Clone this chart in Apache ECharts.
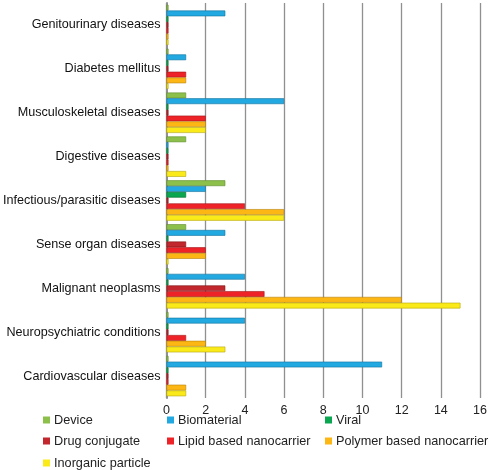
<!DOCTYPE html>
<html>
<head>
<meta charset="utf-8">
<script src="https://cdn.jsdelivr.net/npm/echarts@6/dist/echarts.min.js"></script>
<style>
  html, body { margin: 0; padding: 0; background: #fff; }
  #chart { width: 490px; height: 470px; }
</style>
</head>
<body>
<div id="chart"></div>
<script>
// categories, top to bottom
const categories = [
  'Genitourinary diseases',
  'Diabetes mellitus',
  'Musculoskeletal diseases',
  'Digestive diseases',
  'Infectious/parasitic diseases',
  'Sense organ diseases',
  'Malignant neoplasms',
  'Neuropsychiatric conditions',
  'Cardiovascular diseases'
];

// one value per category, same order as above
const device = [0, 0, 1, 1, 3, 1, 0, 0, 0];
const biomaterial = [3, 1, 6, 0, 2, 3, 4, 4, 11];
const viral = [0, 0, 0, 0, 1, 0, 0, 0, 0];
const drugConjugate = [0, 0, 0, 0, 0, 1, 3, 0, 0];
const lipidNano = [0, 1, 2, 0, 4, 2, 5, 1, 0];
const polymerNano = [0, 1, 2, 0, 6, 2, 12, 2, 1];
const inorganic = [0, 0, 2, 1, 6, 0, 15, 3, 1];

const xTicks = [0, 2, 4, 6, 8, 10, 12, 14, 16];

const seriesDefs = [
  { name: 'Device', data: device, color: '#8cc04b', edge: '#5f8a2c' },
  { name: 'Biomaterial', data: biomaterial, color: '#22a9e1', edge: '#13729c' },
  { name: 'Viral', data: viral, color: '#0aa650', edge: '#067232' },
  { name: 'Drug conjugate', data: drugConjugate, color: '#c1272d', edge: '#7d1519' },
  { name: 'Lipid based nanocarrier', data: lipidNano, color: '#ed2328', edge: '#a31418' },
  { name: 'Polymer based nanocarrier', data: polymerNano, color: '#fdb714', edge: '#b98208' },
  { name: 'Inorganic particle', data: inorganic, color: '#fbea1a', edge: '#b3a60c' }
];

// legend grid: 3 columns, 3 rows
const legendCols = [43, 167, 325];
const legendRows = [413, 434, 456];
const legendSlots = [[0, 0], [1, 0], [2, 0], [0, 1], [1, 1], [2, 1], [0, 2]];

const chart = echarts.init(document.getElementById('chart'));

const font = 'Liberation Sans, Arial, sans-serif';

const option = {
  animation: false,
  textStyle: { fontFamily: font },
  legend: seriesDefs.map((s, i) => ({
    left: legendCols[legendSlots[i][0]],
    top: legendRows[legendSlots[i][1]],
    padding: 0,
    itemWidth: 7,
    itemHeight: 7,
    icon: 'rect',
    itemStyle: { borderWidth: 0 },
    data: [s.name],
    textStyle: { fontFamily: font, fontSize: 12.7, color: '#222', lineHeight: 14, padding: [0, 0, 0, -1] }
  })),
  grid: { left: 165, right: 7, top: 3, bottom: 72 },
  xAxis: {
    type: 'value',
    min: 0,
    max: 16,
    interval: 2,
    axisLine: { show: false },
    axisTick: { show: false },
    axisLabel: {
      fontFamily: font, fontSize: 12.5, color: '#222', margin: 6,
      formatter: v => xTicks.indexOf(v) >= 0 ? String(v) : ''
    },
    splitLine: { show: true, lineStyle: { color: '#909090', width: 1.3 } }
  },
  yAxis: {
    type: 'category',
    data: categories,
    inverse: true,
    axisLine: { show: true, lineStyle: { color: '#909090', width: 2 } },
    axisTick: { show: false },
    axisLabel: { fontFamily: font, fontSize: 12.6, color: '#111', margin: 6 }
  },
  series: seriesDefs.map(s => ({
    name: s.name,
    type: 'bar',
    data: s.data,
    barGap: '0%',
    barCategoryGap: '8%',
    barMinHeight: 2,
    itemStyle: { color: s.color, borderColor: s.edge, borderWidth: 0.6 }
  }))
};

chart.setOption(option);
</script>
</body>
</html>
